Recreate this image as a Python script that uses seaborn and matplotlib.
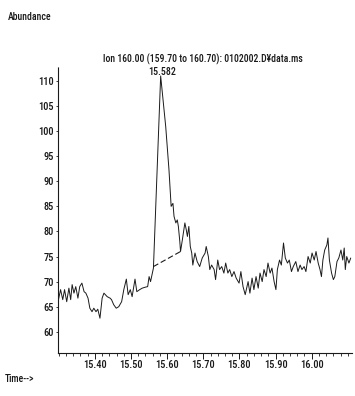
import pandas as pd
import matplotlib.pyplot as plt
import seaborn as sns
from matplotlib.ticker import MultipleLocator

# ------------------------------------------------------------
# Extracted ion chromatogram values
# ------------------------------------------------------------

time_min = [
    15.298, 15.305, 15.311, 15.316, 15.322, 15.328, 15.333, 15.337, 15.342, 15.347,
    15.353, 15.358, 15.364, 15.370, 15.375, 15.381, 15.386, 15.392, 15.397, 15.403,
    15.408, 15.414, 15.420, 15.425, 15.434, 15.442, 15.446, 15.452, 15.459, 15.466,
    15.474, 15.480, 15.487, 15.492, 15.498, 15.503, 15.511, 15.516, 15.524, 15.531,
    15.540, 15.546, 15.550, 15.554, 15.559, 15.562, 15.582, 15.596, 15.605, 15.611,
    15.616, 15.619, 15.624, 15.628, 15.631, 15.635, 15.637, 15.642, 15.649, 15.653,
    15.656, 15.660, 15.664, 15.668, 15.671, 15.677, 15.683, 15.690, 15.697, 15.705,
    15.708, 15.714, 15.718, 15.723, 15.730, 15.734, 15.740, 15.745, 15.751, 15.757,
    15.762, 15.768, 15.773, 15.779, 15.785, 15.791, 15.799, 15.804, 15.810, 15.816,
    15.824, 15.829, 15.835, 15.840, 15.846, 15.852, 15.857, 15.863, 15.868, 15.874,
    15.879, 15.885, 15.890, 15.896, 15.901, 15.905, 15.911, 15.916, 15.922, 15.927,
    15.933, 15.938, 15.944, 15.949, 15.956, 15.962, 15.968, 15.973, 15.979, 15.984,
    15.990, 15.996, 16.001, 16.007, 16.012, 16.018, 16.023, 16.027, 16.031, 16.036,
    16.042, 16.045, 16.049, 16.055, 16.060, 16.064, 16.070, 16.075, 16.081, 16.086,
    16.090, 16.093, 16.097, 16.103, 16.108,
]

abundance = [
    66.0, 68.4, 66.4, 68.4, 66.0, 68.7, 66.4, 69.4, 67.7, 69.0,
    66.7, 69.0, 69.7, 68.0, 67.7, 66.7, 64.7, 64.0, 64.7, 64.0,
    64.5, 62.7, 66.7, 67.7, 67.0, 66.7, 66.4, 65.4, 64.7, 65.0,
    66.0, 68.4, 70.5, 67.4, 68.4, 67.0, 70.5, 68.0, 68.4, 68.7,
    68.9, 69.0, 71.0, 70.0, 71.7, 72.7, 111.0, 100.9, 92.3, 85.0,
    85.6, 83.0, 81.7, 82.3, 81.0, 78.0, 76.0, 78.3, 81.7, 80.3,
    79.0, 81.0, 77.0, 75.7, 73.3, 75.7, 74.0, 73.0, 74.7, 75.7,
    77.0, 75.0, 72.4, 73.3, 72.4, 70.4, 74.3, 72.4, 73.0, 71.7,
    73.7, 71.7, 72.4, 71.0, 72.0, 70.7, 69.7, 72.0, 69.0, 67.4,
    70.0, 67.7, 70.7, 68.4, 71.0, 68.7, 71.7, 70.0, 72.4, 71.0,
    73.7, 71.7, 72.7, 70.0, 68.4, 72.4, 74.3, 73.3, 77.7, 74.7,
    73.7, 74.3, 72.0, 73.0, 74.0, 72.0, 73.3, 72.4, 73.0, 72.0,
    75.0, 73.7, 75.7, 74.3, 76.0, 73.7, 72.4, 71.0, 74.3, 76.3,
    77.3, 78.7, 74.3, 71.7, 70.4, 71.0, 74.0, 74.7, 76.3, 74.3,
    76.7, 72.4, 75.0, 73.7, 74.7,
]

# integration baseline drawn under the peak
baseline_time = [15.562, 15.637]
baseline_abundance = [73.0, 76.0]

apex_time = 15.582
apex_abundance = 111.0

x_ticks = [15.40, 15.50, 15.60, 15.70, 15.80, 15.90, 16.00]
y_ticks = [60, 65, 70, 75, 80, 85, 90, 95, 100, 105, 110]

df = pd.DataFrame({"time": time_min, "abundance": abundance})
base_df = pd.DataFrame({"time": baseline_time, "abundance": baseline_abundance})

# ------------------------------------------------------------
# Style
# ------------------------------------------------------------

sns.set_style("white")
plt.rcParams["font.family"] = ["Roboto Condensed", "DejaVu Sans"]
plt.rcParams["font.weight"] = "medium"
plt.rcParams["text.color"] = "#1a1a1a"
plt.rcParams["xtick.color"] = "#1a1a1a"
plt.rcParams["ytick.color"] = "#1a1a1a"

fig = plt.figure(figsize=(3.55, 3.96), dpi=100)
ax = fig.add_axes([0.163, 0.109, 0.829, 0.722])

sns.lineplot(
    data=df,
    x="time",
    y="abundance",
    sort=False,
    estimator=None,
    color="#1a1a1a",
    linewidth=0.7,
    ax=ax
)

sns.lineplot(
    data=base_df,
    x="time",
    y="abundance",
    sort=False,
    estimator=None,
    color="#1a1a1a",
    linewidth=0.8,
    linestyle=(0, (5, 2.5)),
    ax=ax
)

ax.set_xlim(15.2975, 16.112)
ax.set_ylim(55.8, 112.8)

ax.set_xticks(x_ticks)
ax.set_xticklabels([f"{t:.2f}" for t in x_ticks])
ax.xaxis.set_minor_locator(MultipleLocator(0.02))
ax.set_yticks(y_ticks)

ax.tick_params(axis="x", which="major", direction="out", length=4,
               width=0.7, labelsize=7.5, pad=1.5, bottom=True)
ax.tick_params(axis="x", which="minor", direction="out", length=2,
               width=0.6, bottom=True)
ax.tick_params(axis="y", which="major", direction="out", length=1.5,
               width=0.6, labelsize=7.5, pad=1.5, left=True)

ax.set_xlabel("")
ax.set_ylabel("")

for side in ["top", "right"]:
    ax.spines[side].set_visible(False)
ax.spines["left"].set_linestyle((0, (2, 1)))
ax.spines["left"].set_linewidth(0.8)
ax.spines["bottom"].set_linewidth(0.8)
ax.spines["left"].set_color("#1a1a1a")
ax.spines["bottom"].set_color("#1a1a1a")

# peak retention time label
ax.annotate(
    "15.582",
    xy=(apex_time, apex_abundance),
    xytext=(1, -0.5),
    textcoords="offset points",
    ha="center",
    va="bottom",
    fontsize=7.2
)

fig.text(0.572, 0.850, "Ion 160.00 (159.70 to 160.70): 0102002.D¥data.ms",
         ha="center", va="center", fontsize=7)
fig.text(0.022, 0.957, "Abundance", ha="left", va="center", fontsize=7)
fig.text(0.014, 0.043, "Time-->", ha="left", va="center", fontsize=7)

plt.savefig("out.png", dpi=100)
plt.close()
